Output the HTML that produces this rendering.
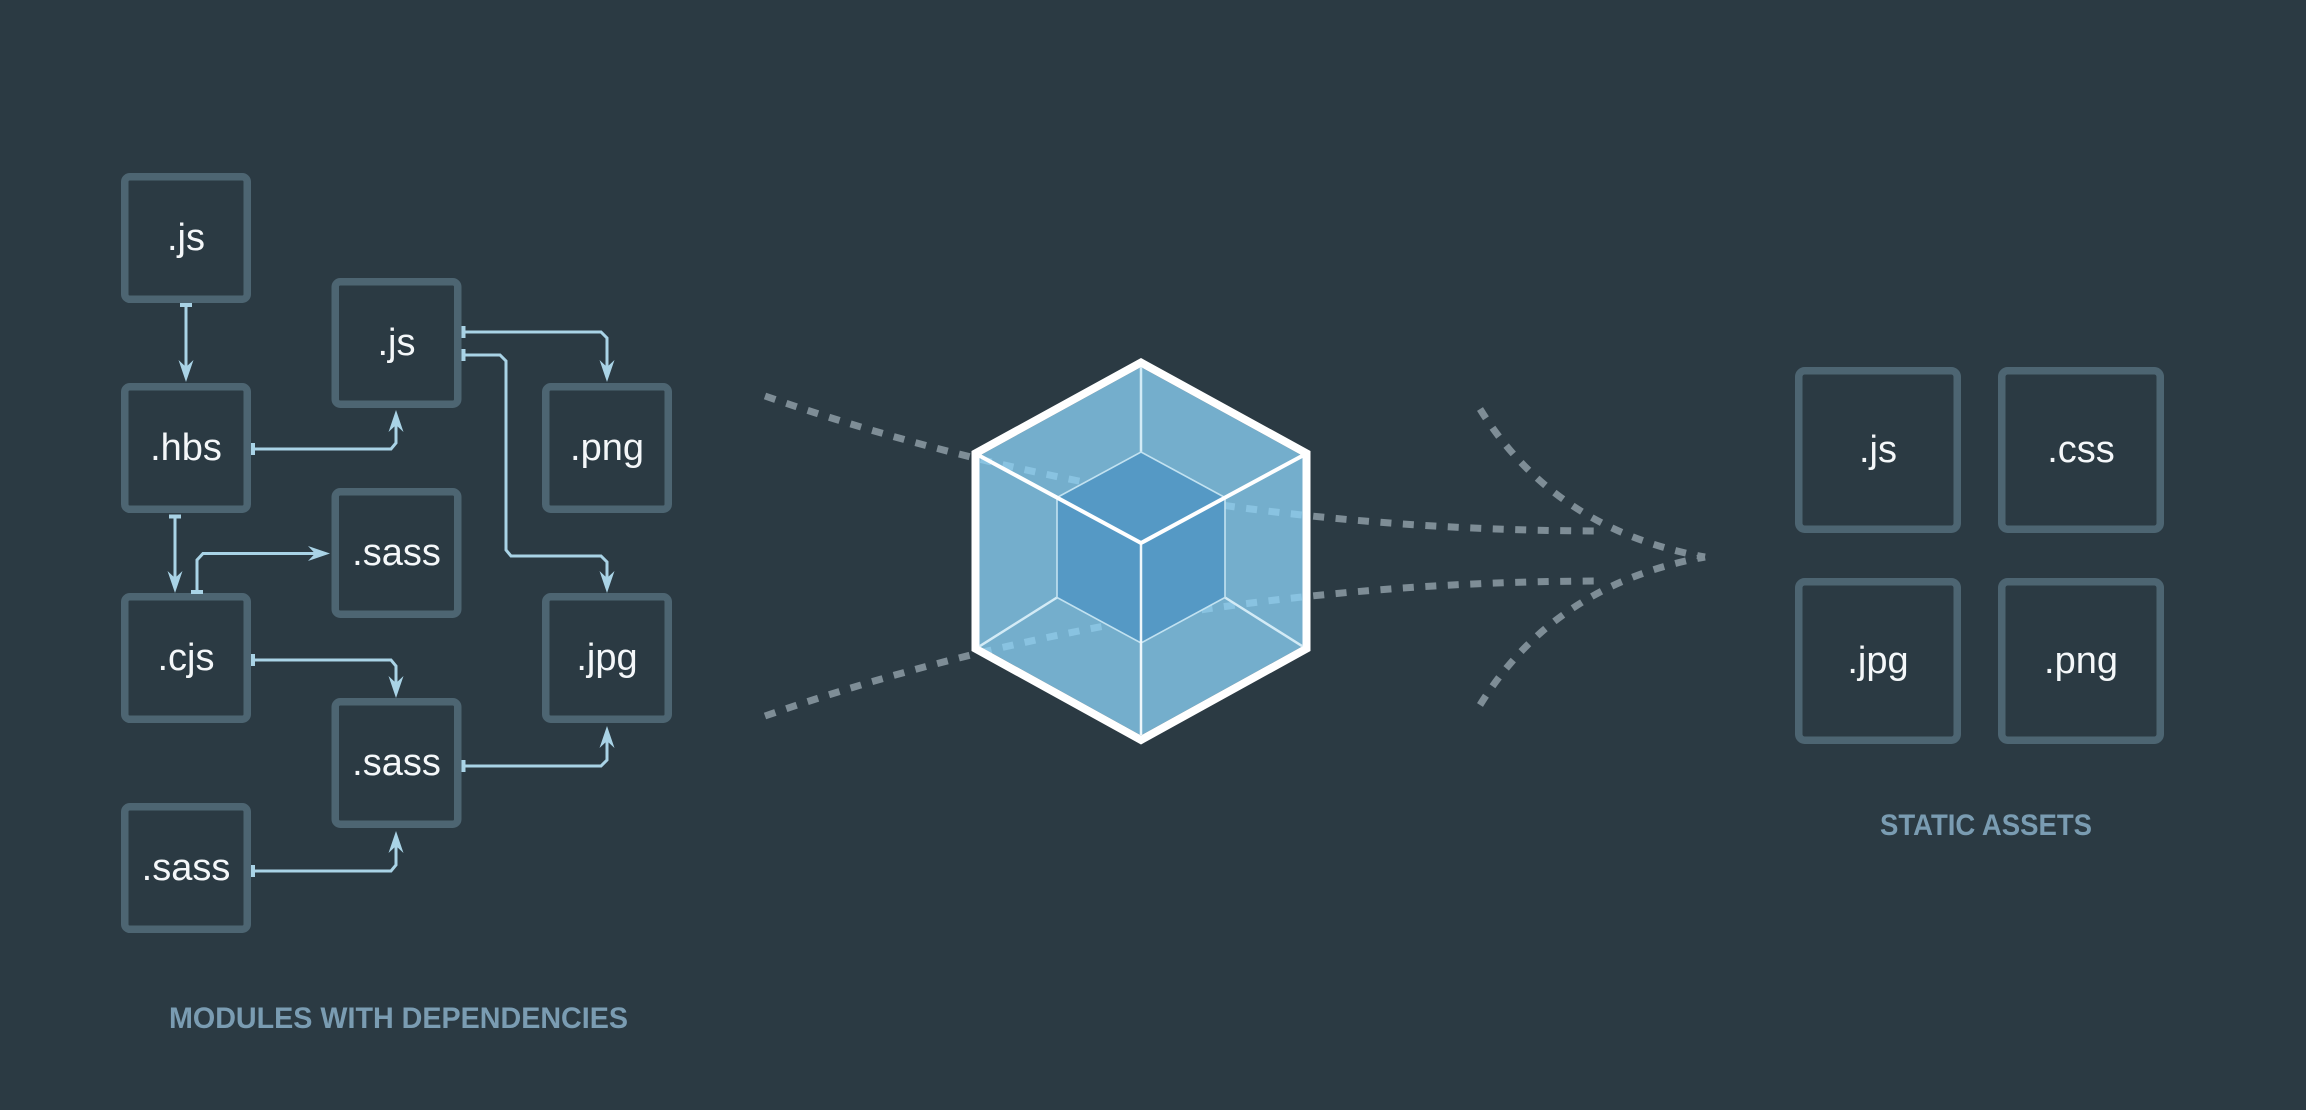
<!DOCTYPE html>
<html><head><meta charset="utf-8">
<style>
html,body{margin:0;padding:0;background:#2b3a43;}
svg{display:block;}
</style></head>
<body>
<svg width="2306" height="1110" viewBox="0 0 2306 1110" xmlns="http://www.w3.org/2000/svg">
<rect x="0" y="0" width="2306" height="1110" fill="#2b3a43"/>

<!-- left module boxes -->
<g fill="none" stroke="#4d6572" stroke-width="7.5">
  <rect x="124.75" y="176.75" width="122.5" height="122.5" rx="5"/>
  <rect x="124.75" y="386.75" width="122.5" height="122.5" rx="5"/>
  <rect x="124.75" y="596.75" width="122.5" height="122.5" rx="5"/>
  <rect x="124.75" y="806.75" width="122.5" height="122.5" rx="5"/>
  <rect x="335.25" y="281.75" width="122.5" height="122.5" rx="5"/>
  <rect x="335.25" y="491.75" width="122.5" height="122.5" rx="5"/>
  <rect x="335.25" y="701.75" width="122.5" height="122.5" rx="5"/>
  <rect x="545.75" y="386.75" width="122.5" height="122.5" rx="5"/>
  <rect x="545.75" y="596.75" width="122.5" height="122.5" rx="5"/>
</g>
<g fill="#f4f7f9" font-family="'Liberation Sans', sans-serif" font-size="38" text-anchor="middle">
  <text x="186" y="250">.js</text>
  <text x="186" y="460">.hbs</text>
  <text x="186" y="670">.cjs</text>
  <text x="186" y="880">.sass</text>
  <text x="396.5" y="355">.js</text>
  <text x="396.5" y="565">.sass</text>
  <text x="396.5" y="775">.sass</text>
  <text x="607" y="460">.png</text>
  <text x="607" y="670">.jpg</text>
</g>

<!-- connectors -->
<g fill="none" stroke="#a9d3e6" stroke-width="3" stroke-linejoin="miter">
  <path d="M186,305 V368"/>
  <path d="M253,449 H391 L396,443 V424"/>
  <path d="M463,332 H601 L607,338 V368"/>
  <path d="M463,355 H500 L506,361 V550 L511,556 H601 L607,562 V579"/>
  <path d="M175,516 V579"/>
  <path d="M197,592 V560 L203,553.5 H316"/>
  <path d="M253,660 H391 L396,666 V684"/>
  <path d="M463,766 H601 L607,760 V740"/>
  <path d="M253,871 H391 L396,865 V845"/>
</g>
<g fill="#a9d3e6">
  <!-- tees -->
  <rect x="180" y="303" width="12" height="4"/>
  <rect x="251" y="443" width="4" height="12"/>
  <rect x="461.5" y="326" width="4" height="12"/>
  <rect x="461.5" y="349" width="4" height="12"/>
  <rect x="169" y="514.5" width="12" height="4"/>
  <rect x="191" y="590" width="12" height="4"/>
  <rect x="251" y="654" width="4" height="12"/>
  <rect x="461.5" y="760" width="4" height="12"/>
  <rect x="251" y="865" width="4" height="12"/>
  <!-- arrowheads -->
  <polygon points="186,382 178.5,360 186,367 193.5,360"/>
  <polygon points="396,410 388.5,432 396,425 403.5,432"/>
  <polygon points="607,382 599.5,360 607,367 614.5,360"/>
  <polygon points="607,593 599.5,571 607,578 614.5,571"/>
  <polygon points="175,593 167.5,571 175,578 182.5,571"/>
  <polygon points="330,553.5 308,546 315,553.5 308,561"/>
  <polygon points="396,698 388.5,676 396,683 403.5,676"/>
  <polygon points="607,726 599.5,748 607,741 614.5,748"/>
  <polygon points="396,831 388.5,853 396,846 403.5,853"/>
</g>

<text x="169" y="1028" textLength="459" lengthAdjust="spacingAndGlyphs" fill="#7a9cb2" font-family="'Liberation Sans', sans-serif" font-weight="bold" font-size="30">MODULES WITH DEPENDENCIES</text>

<!-- dashed flow lines -->
<g fill="none" stroke="#7e8d96" stroke-width="7" stroke-dasharray="11 11.5">
  <path d="M765,396 Q1150,530 1600,531"/>
  <path d="M765,716 Q1150,582 1600,581"/>
  <path d="M1480,409 Q1555,530 1705,557"/>
  <path d="M1480,705 Q1555,584 1705,557"/>
</g>

<!-- webpack cube -->
<polygon points="1141,367.1 1302.5,455.7 1302.5,646.3 1141,735.4 979.5,646.3 979.5,455.7" fill="#8ed6fa" fill-opacity="0.75"/>
<path fill="#ffffff" fill-rule="evenodd" d="M1141,358 L1310.5,451 L1310.5,651 L1141,744.5 L971.5,651 L971.5,451 Z M1141,367.1 L979.5,455.7 L979.5,646.3 L1141,735.4 L1302.5,646.3 L1302.5,455.7 Z"/>
<!-- back/lower lines -->
<g fill="none" stroke="#d3ebf6" stroke-width="2.5">
  <line x1="1141" y1="367" x2="1141" y2="452"/>
  <line x1="979.5" y1="646.3" x2="1057" y2="597.5"/>
  <line x1="1302.5" y1="646.3" x2="1225" y2="597.5"/>
</g>
<!-- inner cube -->
<polygon points="1141,452 1225,497.5 1225,597.5 1141,643 1057,597.5 1057,497.5" fill="#5599c5" stroke="#c2e2f1" stroke-width="1.6"/>
<line x1="1141" y1="543" x2="1141" y2="735" stroke="#eef7fb" stroke-width="2.5"/>
<polyline points="979.5,455.7 1141,543 1302.5,455.7" fill="none" stroke="#ffffff" stroke-width="4"/>

<!-- right asset boxes -->
<g fill="none" stroke="#4d6572" stroke-width="7.5">
  <rect x="1798.75" y="370.75" width="158.5" height="158.5" rx="6"/>
  <rect x="2001.75" y="370.75" width="158.5" height="158.5" rx="6"/>
  <rect x="1798.75" y="581.75" width="158.5" height="158.5" rx="6"/>
  <rect x="2001.75" y="581.75" width="158.5" height="158.5" rx="6"/>
</g>
<g fill="#f4f7f9" font-family="'Liberation Sans', sans-serif" font-size="38" text-anchor="middle">
  <text x="1878" y="462">.js</text>
  <text x="2081" y="462">.css</text>
  <text x="1878" y="673">.jpg</text>
  <text x="2081" y="673">.png</text>
</g>
<text x="1880" y="835" textLength="212" lengthAdjust="spacingAndGlyphs" fill="#7a9cb2" font-family="'Liberation Sans', sans-serif" font-weight="bold" font-size="30">STATIC ASSETS</text>
</svg>
</body></html>
